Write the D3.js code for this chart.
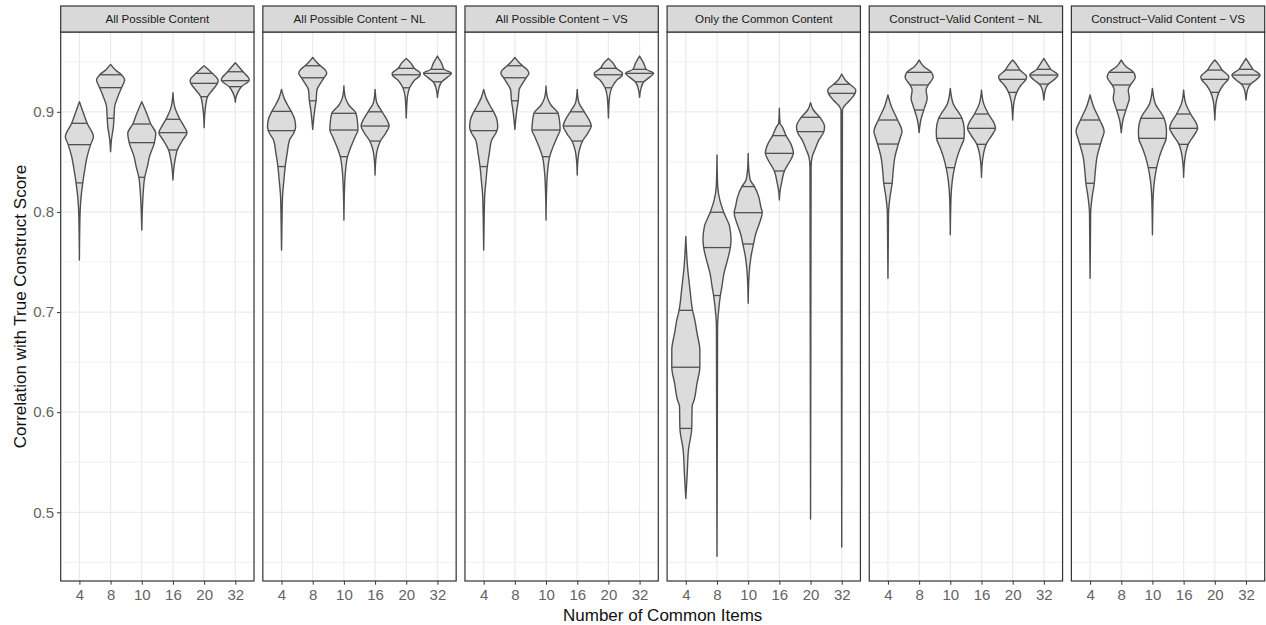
<!DOCTYPE html>
<html lang="en">
<head>
<meta charset="utf-8">
<title>Correlation with True Construct Score</title>
<script src="https://d3js.org/d3.v7.min.js"></script>
<style>
  body { margin: 0; background: #fff; font-family: "Liberation Sans", Arial, sans-serif; }
  .grid line { stroke: #ebebeb; }
  .violin { fill: #dcdcdd; stroke: #505050; stroke-width: 1.4; stroke-linejoin: round; }
  .qline { stroke: #505050; stroke-width: 1.3; }
  .border { fill: none; stroke: #333; stroke-width: 1.2; }
  .strip { fill: #d9d9d9; stroke: #333; stroke-width: 1.2; }
  .strip-text { font-size: 11.6px; fill: #1a1a1a; }
  .tick text { font-size: 15px; fill: #636363; font-family: "Liberation Sans", Arial, sans-serif; }
  .tick line { stroke: #333; }
  .axis-title { font-size: 17px; fill: #111; }
</style>
</head>
<body>
<svg id="chart" width="1266" height="625"></svg>
<script>
// ------------------------------ DATA ------------------------------
var panels = ["All Possible Content", "All Possible Content \u2212 NL", "All Possible Content \u2212 VS",
              "Only the Common Content", "Construct\u2212Valid Content \u2212 NL", "Construct\u2212Valid Content \u2212 VS"];
var items = ["4", "8", "10", "16", "20", "32"];
var yTicks = [0.5, 0.6, 0.7, 0.8, 0.9];
var yMinor = [0.45, 0.55, 0.65, 0.75, 0.85, 0.95];

// one entry per number of common items
// q = quartiles [25%, 50%, 75%], p = [correlation, relative density] read bottom to top
var allPossible = [
  {q: [0.829, 0.8672, 0.8885], p: [[0.752,0],[0.7954,0.04],[0.812,0.1],[0.829,0.24],[0.8419,0.38],[0.8552,0.55],[0.8672,0.8],[0.8752,1.0],[0.8885,0.55],[0.8985,0.29],[0.9101,0]]},
  {q: [0.8935, 0.9241, 0.937], p: [[0.8602,0],[0.8719,0.06],[0.8852,0.2],[0.8935,0.24],[0.9051,0.29],[0.9151,0.52],[0.9241,0.78],[0.9318,1.0],[0.937,0.77],[0.9417,0.35],[0.9473,0]]},
  {q: [0.8346, 0.8692, 0.8878], p: [[0.782,0],[0.802,0.04],[0.8186,0.1],[0.8346,0.21],[0.8452,0.4],[0.8552,0.55],[0.8692,0.9],[0.8785,1.0],[0.8878,0.64],[0.8985,0.35],[0.9101,0]]},
  {q: [0.8619, 0.8792, 0.8925], p: [[0.8319,0],[0.8419,0.05],[0.8519,0.15],[0.8619,0.31],[0.8719,0.7],[0.8792,1.0],[0.8852,0.8],[0.8925,0.5],[0.9051,0.12],[0.9191,0]]},
  {q: [0.9151, 0.9284, 0.9384], p: [[0.8842,0],[0.895,0.03],[0.9051,0.1],[0.9151,0.24],[0.9218,0.6],[0.9284,0.95],[0.9311,1.0],[0.9384,0.58],[0.946,0]]},
  {q: [0.9251, 0.9311, 0.94], p: [[0.9095,0],[0.914,0.04],[0.9184,0.15],[0.9251,0.43],[0.9318,1.0],[0.94,0.55],[0.949,0]]}
];
var allPossibleNL = [
  {q: [0.8453, 0.8812, 0.9004], p: [[0.762,0],[0.79,0.03],[0.8153,0.07],[0.832,0.17],[0.8453,0.26],[0.8585,0.4],[0.8718,0.57],[0.8785,0.86],[0.8845,1.0],[0.8918,0.95],[0.9004,0.69],[0.9068,0.43],[0.9134,0.19],[0.9224,0]]},
  {q: [0.911, 0.934, 0.946], p: [[0.8825,0],[0.892,0.06],[0.9018,0.14],[0.911,0.24],[0.9217,0.3],[0.9284,0.55],[0.934,0.8],[0.9384,1.0],[0.9417,0.9],[0.946,0.55],[0.95,0.25],[0.9543,0]]},
  {q: [0.8552, 0.8818, 0.8985], p: [[0.792,0],[0.822,0.04],[0.8386,0.1],[0.8552,0.26],[0.8651,0.5],[0.8751,0.8],[0.8818,1.0],[0.8885,0.98],[0.8985,0.86],[0.9068,0.35],[0.9134,0.12],[0.92,0.03],[0.9257,0]]},
  {q: [0.8708, 0.8858, 0.9], p: [[0.8369,0],[0.8519,0.05],[0.8618,0.15],[0.8708,0.38],[0.8785,0.75],[0.8858,1.0],[0.8918,0.85],[0.9,0.5],[0.91,0.1],[0.9224,0]]},
  {q: [0.924, 0.937, 0.9434], p: [[0.8938,0],[0.905,0.03],[0.915,0.08],[0.924,0.24],[0.9317,0.6],[0.937,1.0],[0.9384,1.0],[0.9434,0.57],[0.9484,0.35],[0.9533,0]]},
  {q: [0.93, 0.9384, 0.9424], p: [[0.9144,0],[0.9234,0.1],[0.93,0.31],[0.935,0.75],[0.9384,1.0],[0.9424,0.48],[0.9484,0.3],[0.9557,0]]}
];
var allPossibleVS = [
  {q: [0.8453, 0.8812, 0.9004], p: [[0.762,0],[0.79,0.03],[0.8153,0.07],[0.832,0.17],[0.8453,0.26],[0.8585,0.4],[0.8718,0.57],[0.8785,0.86],[0.8845,1.0],[0.8918,0.95],[0.9004,0.69],[0.9068,0.43],[0.9134,0.19],[0.9224,0]]},
  {q: [0.911, 0.934, 0.946], p: [[0.8825,0],[0.892,0.06],[0.9018,0.14],[0.911,0.24],[0.9217,0.3],[0.9284,0.55],[0.934,0.8],[0.9384,1.0],[0.9417,0.9],[0.946,0.55],[0.95,0.25],[0.9543,0]]},
  {q: [0.8552, 0.8818, 0.8985], p: [[0.792,0],[0.822,0.04],[0.8386,0.1],[0.8552,0.26],[0.8651,0.5],[0.8751,0.8],[0.8818,1.0],[0.8885,0.98],[0.8985,0.86],[0.9068,0.35],[0.9134,0.12],[0.92,0.03],[0.9257,0]]},
  {q: [0.8708, 0.8858, 0.9], p: [[0.8369,0],[0.8519,0.05],[0.8618,0.15],[0.8708,0.38],[0.8785,0.75],[0.8858,1.0],[0.8918,0.85],[0.9,0.5],[0.91,0.1],[0.9224,0]]},
  {q: [0.924, 0.937, 0.9434], p: [[0.8938,0],[0.905,0.03],[0.915,0.08],[0.924,0.24],[0.9317,0.6],[0.937,1.0],[0.9384,1.0],[0.9434,0.57],[0.9484,0.35],[0.9533,0]]},
  {q: [0.93, 0.9384, 0.9424], p: [[0.9144,0],[0.9234,0.1],[0.93,0.31],[0.935,0.75],[0.9384,1.0],[0.9424,0.48],[0.9484,0.3],[0.9557,0]]}
];
var commonOnly = [
  {q: [0.5838, 0.6449, 0.7017], p: [[0.5139,0],[0.5389,0.1],[0.5622,0.19],[0.5838,0.42],[0.6057,0.45],[0.6124,0.6],[0.629,0.8],[0.6449,1.0],[0.6622,1.0],[0.6789,0.8],[0.6922,0.64],[0.7017,0.48],[0.7222,0.3],[0.7455,0.12],[0.7754,0]]},
  {q: [0.7165, 0.7644, 0.7997], p: [[0.456,0],[0.6856,0.04],[0.7022,0.12],[0.7165,0.24],[0.7255,0.35],[0.7388,0.5],[0.7521,0.75],[0.7644,0.95],[0.7721,1.0],[0.7854,0.9],[0.7997,0.48],[0.812,0.2],[0.8253,0.05],[0.8569,0]]},
  {q: [0.768, 0.7993, 0.8253], p: [[0.7088,0],[0.7388,0.07],[0.7554,0.2],[0.768,0.38],[0.7787,0.55],[0.7887,0.8],[0.7993,1.0],[0.8053,0.9],[0.8153,0.75],[0.8253,0.45],[0.8319,0.15],[0.845,0.03],[0.8585,0]]},
  {q: [0.8409, 0.8585, 0.8762], p: [[0.812,0],[0.82,0.04],[0.8286,0.15],[0.8409,0.36],[0.8519,0.8],[0.8585,1.0],[0.8685,0.8],[0.8762,0.48],[0.8852,0.2],[0.8885,0.05],[0.9035,0]]},
  {q: [0.848, 0.8802, 0.8945], p: [[0.4933,0],[0.8452,0.04],[0.8552,0.12],[0.8619,0.3],[0.8719,0.6],[0.8802,0.95],[0.8852,1.0],[0.8945,0.67],[0.9018,0.2],[0.9091,0]]},
  {q: [0.90, 0.9184, 0.9274], p: [[0.4653,0],[0.9018,0.05],[0.9051,0.15],[0.9118,0.6],[0.9184,0.95],[0.9218,1.0],[0.9274,0.57],[0.9318,0.25],[0.9377,0]]}
];
var constructNL = [
  {q: [0.8286, 0.8678, 0.8918], p: [[0.7338,0],[0.7987,0.04],[0.8153,0.15],[0.8286,0.3],[0.8386,0.36],[0.8552,0.5],[0.8678,0.74],[0.8751,0.9],[0.8801,1.0],[0.8918,0.69],[0.9051,0.25],[0.9168,0]]},
  {q: [0.9018, 0.9268, 0.9394], p: [[0.8792,0],[0.8918,0.12],[0.9018,0.33],[0.9068,0.45],[0.9134,0.57],[0.9218,0.5],[0.9268,0.65],[0.9344,1.0],[0.9394,0.88],[0.945,0.35],[0.9517,0]]},
  {q: [0.8442, 0.8735, 0.8935], p: [[0.7771,0],[0.8153,0.05],[0.832,0.15],[0.8442,0.3],[0.8552,0.5],[0.8651,0.75],[0.8735,0.98],[0.8818,1.0],[0.8935,0.83],[0.9084,0.2],[0.9234,0]]},
  {q: [0.8675, 0.8835, 0.8978], p: [[0.8346,0],[0.8485,0.05],[0.8585,0.15],[0.8675,0.33],[0.8768,0.75],[0.8835,1.0],[0.8885,0.9],[0.8978,0.5],[0.9084,0.15],[0.9217,0]]},
  {q: [0.9194, 0.9324, 0.9417], p: [[0.8918,0],[0.90,0.03],[0.9101,0.1],[0.9194,0.29],[0.9268,0.6],[0.9324,0.95],[0.935,1.0],[0.9417,0.52],[0.9467,0.3],[0.9517,0]]},
  {q: [0.9277, 0.9367, 0.9424], p: [[0.9118,0],[0.9217,0.1],[0.9277,0.33],[0.9317,0.7],[0.9367,1.0],[0.9424,0.5],[0.9467,0.3],[0.9533,0]]}
];
var constructVS = [
  {q: [0.8286, 0.8678, 0.8918], p: [[0.7338,0],[0.7987,0.04],[0.8153,0.15],[0.8286,0.3],[0.8386,0.36],[0.8552,0.5],[0.8678,0.74],[0.8751,0.9],[0.8801,1.0],[0.8918,0.69],[0.9051,0.25],[0.9168,0]]},
  {q: [0.9018, 0.9268, 0.9394], p: [[0.8792,0],[0.8918,0.12],[0.9018,0.33],[0.9068,0.45],[0.9134,0.57],[0.9218,0.5],[0.9268,0.65],[0.9344,1.0],[0.9394,0.88],[0.945,0.35],[0.9517,0]]},
  {q: [0.8442, 0.8735, 0.8935], p: [[0.7771,0],[0.8153,0.05],[0.832,0.15],[0.8442,0.3],[0.8552,0.5],[0.8651,0.75],[0.8735,0.98],[0.8818,1.0],[0.8935,0.83],[0.9084,0.2],[0.9234,0]]},
  {q: [0.8675, 0.8835, 0.8978], p: [[0.8346,0],[0.8485,0.05],[0.8585,0.15],[0.8675,0.33],[0.8768,0.75],[0.8835,1.0],[0.8885,0.9],[0.8978,0.5],[0.9084,0.15],[0.9217,0]]},
  {q: [0.9194, 0.9324, 0.9417], p: [[0.8918,0],[0.90,0.03],[0.9101,0.1],[0.9194,0.29],[0.9268,0.6],[0.9324,0.95],[0.935,1.0],[0.9417,0.52],[0.9467,0.3],[0.9517,0]]},
  {q: [0.9277, 0.9367, 0.9424], p: [[0.9118,0],[0.9217,0.1],[0.9277,0.33],[0.9317,0.7],[0.9367,1.0],[0.9424,0.5],[0.9467,0.3],[0.9533,0]]}
];
var panelData = [allPossible, allPossibleNL, allPossibleVS, commonOnly, constructNL, constructVS];

// ------------------------------ SCALES ------------------------------
var svg = d3.select("#chart");
var top0 = 32, bottom0 = 581, stripTop = 6;

var fx = d3.scaleBand().domain(panels).range([60.7, 1264.7]).paddingInner(0.0436);
var y = d3.scaleLinear().domain([0.4314, 0.9797]).range([bottom0, top0]);
var x = d3.scalePoint().domain(items).range([0, fx.bandwidth()]).padding(0.6);
var halfW = 0.45 * x.step();

// width of the violin at a given value (linear between read points)
function densAt(p, v) {
  for (var k = 1; k < p.length; k++) {
    if (v <= p[k][0]) {
      var t = (v - p[k-1][0]) / (p[k][0] - p[k-1][0]);
      return p[k-1][1] + t * (p[k][1] - p[k-1][1]);
    }
  }
  return 0;
}

// ------------------------------ PANELS ------------------------------
panels.forEach(function (name, i) {
  var bw = fx.bandwidth();
  var g = svg.append("g").attr("transform", "translate(" + fx(name) + ",0)");

  var grid = g.append("g").attr("class", "grid");
  grid.selectAll(".minor").data(yMinor).join("line").attr("class", "minor")
    .attr("x1", 0).attr("x2", bw).attr("y1", function (d) { return y(d); }).attr("y2", function (d) { return y(d); })
    .attr("stroke-width", 0.7);
  grid.selectAll(".major").data(yTicks).join("line").attr("class", "major")
    .attr("x1", 0).attr("x2", bw).attr("y1", function (d) { return y(d); }).attr("y2", function (d) { return y(d); })
    .attr("stroke-width", 1.2);
  grid.selectAll(".vmajor").data(items).join("line").attr("class", "vmajor")
    .attr("x1", function (d) { return x(d); }).attr("x2", function (d) { return x(d); })
    .attr("y1", top0).attr("y2", bottom0).attr("stroke-width", 1.2);

  var violins = panelData[i];
  violins.forEach(function (vi, j) {
    var cx = x(items[j]);
    var pts = vi.p.slice().reverse();
    var area = d3.area()
      .curve(d3.curveMonotoneY)
      .y(function (d) { return y(d[0]); })
      .x0(function (d) { return cx - d[1] * halfW; })
      .x1(function (d) { return cx + d[1] * halfW; });
    g.append("path").attr("class", "violin").attr("d", area(pts));

    g.selectAll(null).data(vi.q).join("line").attr("class", "qline")
      .attr("x1", function (q) { return cx - densAt(vi.p, q) * halfW; })
      .attr("x2", function (q) { return cx + densAt(vi.p, q) * halfW; })
      .attr("y1", function (q) { return y(q); })
      .attr("y2", function (q) { return y(q); });
  });

  g.append("rect").attr("class", "border")
    .attr("x", 0).attr("y", top0).attr("width", bw).attr("height", bottom0 - top0);

  g.append("rect").attr("class", "strip")
    .attr("x", 0).attr("y", stripTop).attr("width", bw).attr("height", top0 - stripTop);
  g.append("text").attr("class", "strip-text")
    .attr("x", bw / 2).attr("y", (stripTop + top0) / 2).attr("dy", "0.35em")
    .attr("text-anchor", "middle").text(name);

  var ax = g.append("g").attr("transform", "translate(0," + bottom0 + ")")
    .call(d3.axisBottom(x).tickSize(3.7).tickPadding(4.5));
  ax.select(".domain").remove();
});

// y axis on the first panel
var ay = svg.append("g").attr("transform", "translate(" + fx(panels[0]) + ",0)")
  .call(d3.axisLeft(y).tickValues(yTicks).tickFormat(d3.format(".1f")).tickSize(3.7).tickPadding(3));
ay.select(".domain").remove();

svg.append("text").attr("class", "axis-title")
  .attr("x", (60.7 + 1264.7) / 2).attr("y", 621).attr("text-anchor", "middle")
  .text("Number of Common Items");

svg.append("text").attr("class", "axis-title")
  .attr("transform", "translate(25.5," + (top0 + bottom0) / 2 + ") rotate(-90)")
  .attr("text-anchor", "middle")
  .text("Correlation with True Construct Score");
</script>
</body>
</html>
